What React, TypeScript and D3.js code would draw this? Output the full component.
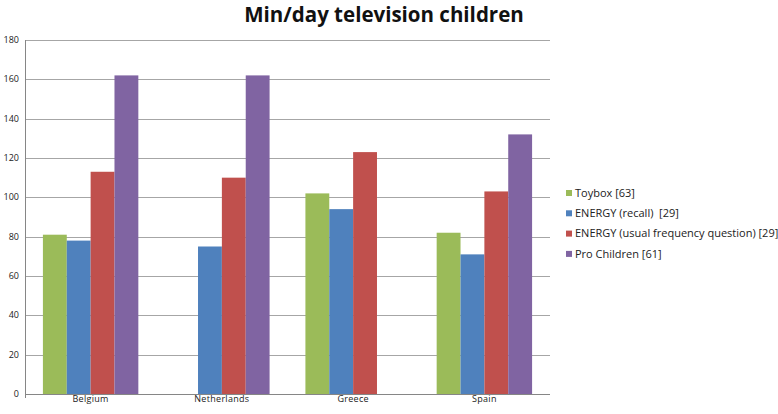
import { useEffect, useRef } from 'react'
import * as d3 from 'd3'

// ── Data ───────────────────────────────────────────────────────────────────
const COUNTRIES = ['Belgium', 'Netherlands', 'Greece', 'Spain']
const SERIES = [
  'Toybox [63]',
  'ENERGY (recall)  [29]',
  'ENERGY (usual frequency question) [29]',
  'Pro Children [61]',
]
const TOYBOX = [81, null, 102, 82]
const ENERGY_RECALL = [78, 75, 94, 71]
const ENERGY_USUAL = [113, 110, 123, 103]
const PRO_CHILDREN = [162, 162, null, 132]
const Y_TICKS = [0, 20, 40, 60, 80, 100, 120, 140, 160, 180]
const COLORS = ['#9bbb59', '#4f81bd', '#c0504d', '#8064a2']

const VALUES: (number | null)[][] = [TOYBOX, ENERGY_RECALL, ENERGY_USUAL, PRO_CHILDREN]

const W = 778, H = 414
const M = { left: 25, right: 228, top: 40, bottom: 20 }

export default function App() {
  const svgRef = useRef<SVGSVGElement>(null)

  useEffect(() => {
    const svg = d3.select(svgRef.current)
    svg.selectAll('*').remove()
    svg.attr('width', W).attr('height', H)

    const font = 'Open Sans, Lato, sans-serif'
    const x0 = W - M.right
    const y1 = H - M.bottom

    svg.append('rect').attr('width', W).attr('height', H).attr('fill', '#fff')

    const x = d3.scaleBand().domain(COUNTRIES).range([M.left, x0]).paddingInner(0.273).paddingOuter(0.1365)
    const xs = d3.scaleBand().domain(SERIES).range([0, x.bandwidth()])
    const y = d3.scaleLinear().domain([0, 180]).range([y1, M.top])

    // gridlines
    svg.append('g').selectAll('line').data(Y_TICKS.slice(1)).join('line')
      .attr('x1', M.left).attr('x2', x0)
      .attr('y1', (d) => Math.round(y(d)) + 0.5).attr('y2', (d) => Math.round(y(d)) + 0.5)
      .attr('stroke', '#a6a6a6').attr('stroke-width', 1)

    // bars
    const g = svg.append('g')
    VALUES.forEach((vals, si) => {
      g.append('g').selectAll('rect')
        .data(COUNTRIES.map((c, i) => ({ c, v: vals[i] })).filter((d) => d.v != null))
        .join('rect')
        .attr('x', (d) => x(d.c)! + xs(SERIES[si])!)
        .attr('width', xs.bandwidth())
        .attr('y', (d) => y(d.v as number))
        .attr('height', (d) => y1 - y(d.v as number))
        .attr('fill', COLORS[si])
    })

    // axes lines
    svg.append('line').attr('x1', M.left + 0.5).attr('x2', M.left + 0.5)
      .attr('y1', M.top).attr('y2', y1 + 4).attr('stroke', '#868686')
    svg.append('line').attr('x1', M.left).attr('x2', x0)
      .attr('y1', Math.round(y1) + 0.5).attr('y2', Math.round(y1) + 0.5).attr('stroke', '#868686')

    // y tick labels
    svg.append('g').selectAll('text').data(Y_TICKS).join('text')
      .attr('x', 19).attr('y', (d) => y(d)).attr('dy', '0.35em')
      .attr('text-anchor', 'end').attr('font-family', font).attr('font-size', 9)
      .attr('fill', '#222').text((d) => d)

    // category labels
    svg.append('g').selectAll('text').data(COUNTRIES).join('text')
      .attr('x', (d) => x(d)! + x.bandwidth() / 2).attr('y', 402)
      .attr('text-anchor', 'middle').attr('font-family', font).attr('font-size', 9)
      .attr('letter-spacing', 0.3).attr('fill', '#222').text((d) => d)

    // title
    svg.append('text').attr('x', 384).attr('y', 22).attr('text-anchor', 'middle')
      .attr('font-family', font).attr('font-weight', 'bold').attr('font-size', 20.5)
      .attr('fill', '#111').text('Min/day television children')

    // legend
    const lg = svg.append('g').attr('transform', 'translate(566,193)')
    SERIES.forEach((s, i) => {
      lg.append('rect').attr('x', 0).attr('y', i * 20.3 - 3).attr('width', 6).attr('height', 6).attr('fill', COLORS[i])
      lg.append('text').attr('x', 9).attr('y', i * 20.3).attr('dy', '0.35em')
        .style('white-space', 'pre')
        .attr('font-family', font).attr('font-size', 11).attr('fill', '#222').text(s)
    })
  }, [])

  return <svg ref={svgRef} style={{ display: 'block', position: 'absolute', left: 0, top: 0 }} />
}
